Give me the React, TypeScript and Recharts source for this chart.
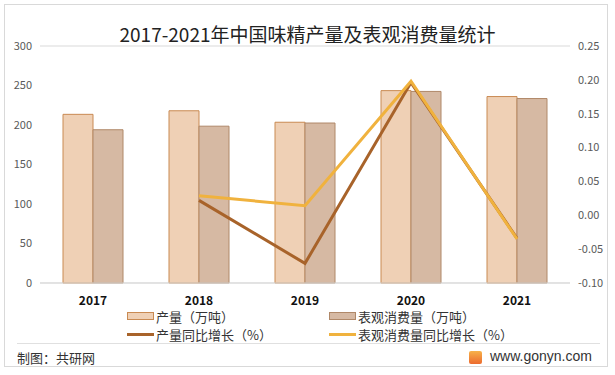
import React from "react";
import { ComposedChart, Bar, Line, XAxis, YAxis, CartesianGrid } from "recharts";

const years = ["2017", "2018", "2019", "2020", "2021"];
const output = [213.5, 218, 203.5, 243.5, 236];
const consumption = [194, 198.5, 202.5, 242.5, 233.5];
const outputGrowth = [null, 0.022, -0.071, 0.196, -0.034];
const consumptionGrowth = [null, 0.029, 0.014, 0.198, -0.035];
const leftTicks = [0, 50, 100, 150, 200, 250, 300];
const rightTicks = [-0.1, -0.05, 0, 0.05, 0.1, 0.15, 0.2, 0.25];

const data = years.map((y, i) => ({
    year: y,
    output: output[i],
    consumption: consumption[i],
    outputGrowth: outputGrowth[i],
    consumptionGrowth: consumptionGrowth[i],
}));

const font = "'Microsoft YaHei', 'Noto Sans CJK SC', sans-serif";

const legendItems = [
    { label: "产量（万吨）", type: "bar", fill: "#EFD0B5", stroke: "#C98A52" },
    { label: "表观消费量（万吨）", type: "bar", fill: "#D6B9A3", stroke: "#B08868" },
    { label: "产量同比增长（%）", type: "line", stroke: "#A8632A" },
    { label: "表观消费量同比增长（%）", type: "line", stroke: "#F0B23E" },
];

function LegendBox() {
    return (
        <>
            {legendItems.map((it, i) => {
                const left = i % 2 === 0 ? 127 : 329;
                const top = i < 2 ? 307 : 325;
                return (
                    <div
                        key={it.label}
                        style={{
                            position: "absolute",
                            left,
                            top,
                            display: "flex",
                            alignItems: "center",
                            height: 18,
                            fontSize: 13,
                            color: "#333",
                            whiteSpace: "nowrap",
                        }}
                    >
                        {it.type === "bar" ? (
                            <span style={{ display: "inline-block", width: 25, height: 6, background: it.fill, border: `1px solid ${it.stroke}`, marginRight: 2 }} />
                        ) : (
                            <span style={{ display: "inline-block", width: 27, height: 3, background: it.stroke, marginRight: 2 }} />
                        )}
                        <span>{it.label}</span>
                    </div>
                );
            })}
        </>
    );
}

export default function App() {
    return (
        <div style={{ position: "absolute", left: 0, top: 0, width: 615, height: 375, background: "#fff", fontFamily: font }}>
            <div style={{ position: "absolute", left: 4, top: 4, width: 604, height: 363, border: "1px solid #d9d9d9", boxSizing: "border-box" }} />
            <div style={{ position: "absolute", left: 0, top: 20, width: 615, textAlign: "center", fontSize: 19, color: "#222" }}>
                2017-2021年中国味精产量及表观消费量统计
            </div>
            <div style={{ position: "absolute", left: 0, top: 0 }}>
                <ComposedChart
                    width={615}
                    height={375}
                    data={data}
                    margin={{ top: 46, right: 0, left: 0, bottom: 62 }}
                    barGap={0}
                    barSize={30}
                >
                    <CartesianGrid vertical={false} stroke="#d9d9d9" />
                    <XAxis
                        dataKey="year"
                        height={30}
                        axisLine={{ stroke: "#d9d9d9" }}
                        tickLine={false}
                        tickMargin={7}
                        tick={{ fill: "#111", fontSize: 12, fontWeight: "bold", fontFamily: font }}
                    />
                    <YAxis
                        yAxisId="left"
                        width={40}
                        domain={[0, 300]}
                        ticks={leftTicks}
                        axisLine={false}
                        tickLine={false}
                        tick={{ fill: "#595959", fontSize: 11, fontFamily: font }}
                    />
                    <YAxis
                        yAxisId="right"
                        orientation="right"
                        width={45}
                        domain={[-0.1, 0.25]}
                        ticks={rightTicks}
                        axisLine={false}
                        tickLine={false}
                        tickFormatter={(v) => v.toFixed(2)}
                        tick={{ fill: "#595959", fontSize: 11, fontFamily: font }}
                    />
                    <Bar yAxisId="left" dataKey="output" fill="#EFD0B5" stroke="#C98A52" strokeWidth={1} isAnimationActive={false} />
                    <Bar yAxisId="left" dataKey="consumption" fill="#D6B9A3" stroke="#B08868" strokeWidth={1} isAnimationActive={false} />
                    <Line yAxisId="right" dataKey="outputGrowth" stroke="#A8632A" strokeWidth={3} dot={false} isAnimationActive={false} />
                    <Line yAxisId="right" dataKey="consumptionGrowth" stroke="#F0B23E" strokeWidth={3} dot={false} isAnimationActive={false} />
                </ComposedChart>
            </div>
            <LegendBox />
            <div style={{ position: "absolute", left: 17, top: 343, width: 583, borderTop: "1px solid #e0e0e0" }} />
            <div style={{ position: "absolute", left: 17, top: 348, fontSize: 13, color: "#333" }}>制图：共研网</div>
            <div style={{ position: "absolute", left: 469, top: 351, width: 13, height: 13, background: "linear-gradient(#F7B24A, #EC6A2E)", borderRadius: 2 }} />
            <div style={{ position: "absolute", left: 490, top: 348, fontSize: 14, color: "#333", fontFamily: "Arial, 'Liberation Sans', sans-serif" }}>www.gonyn.com</div>
        </div>
    );
}
